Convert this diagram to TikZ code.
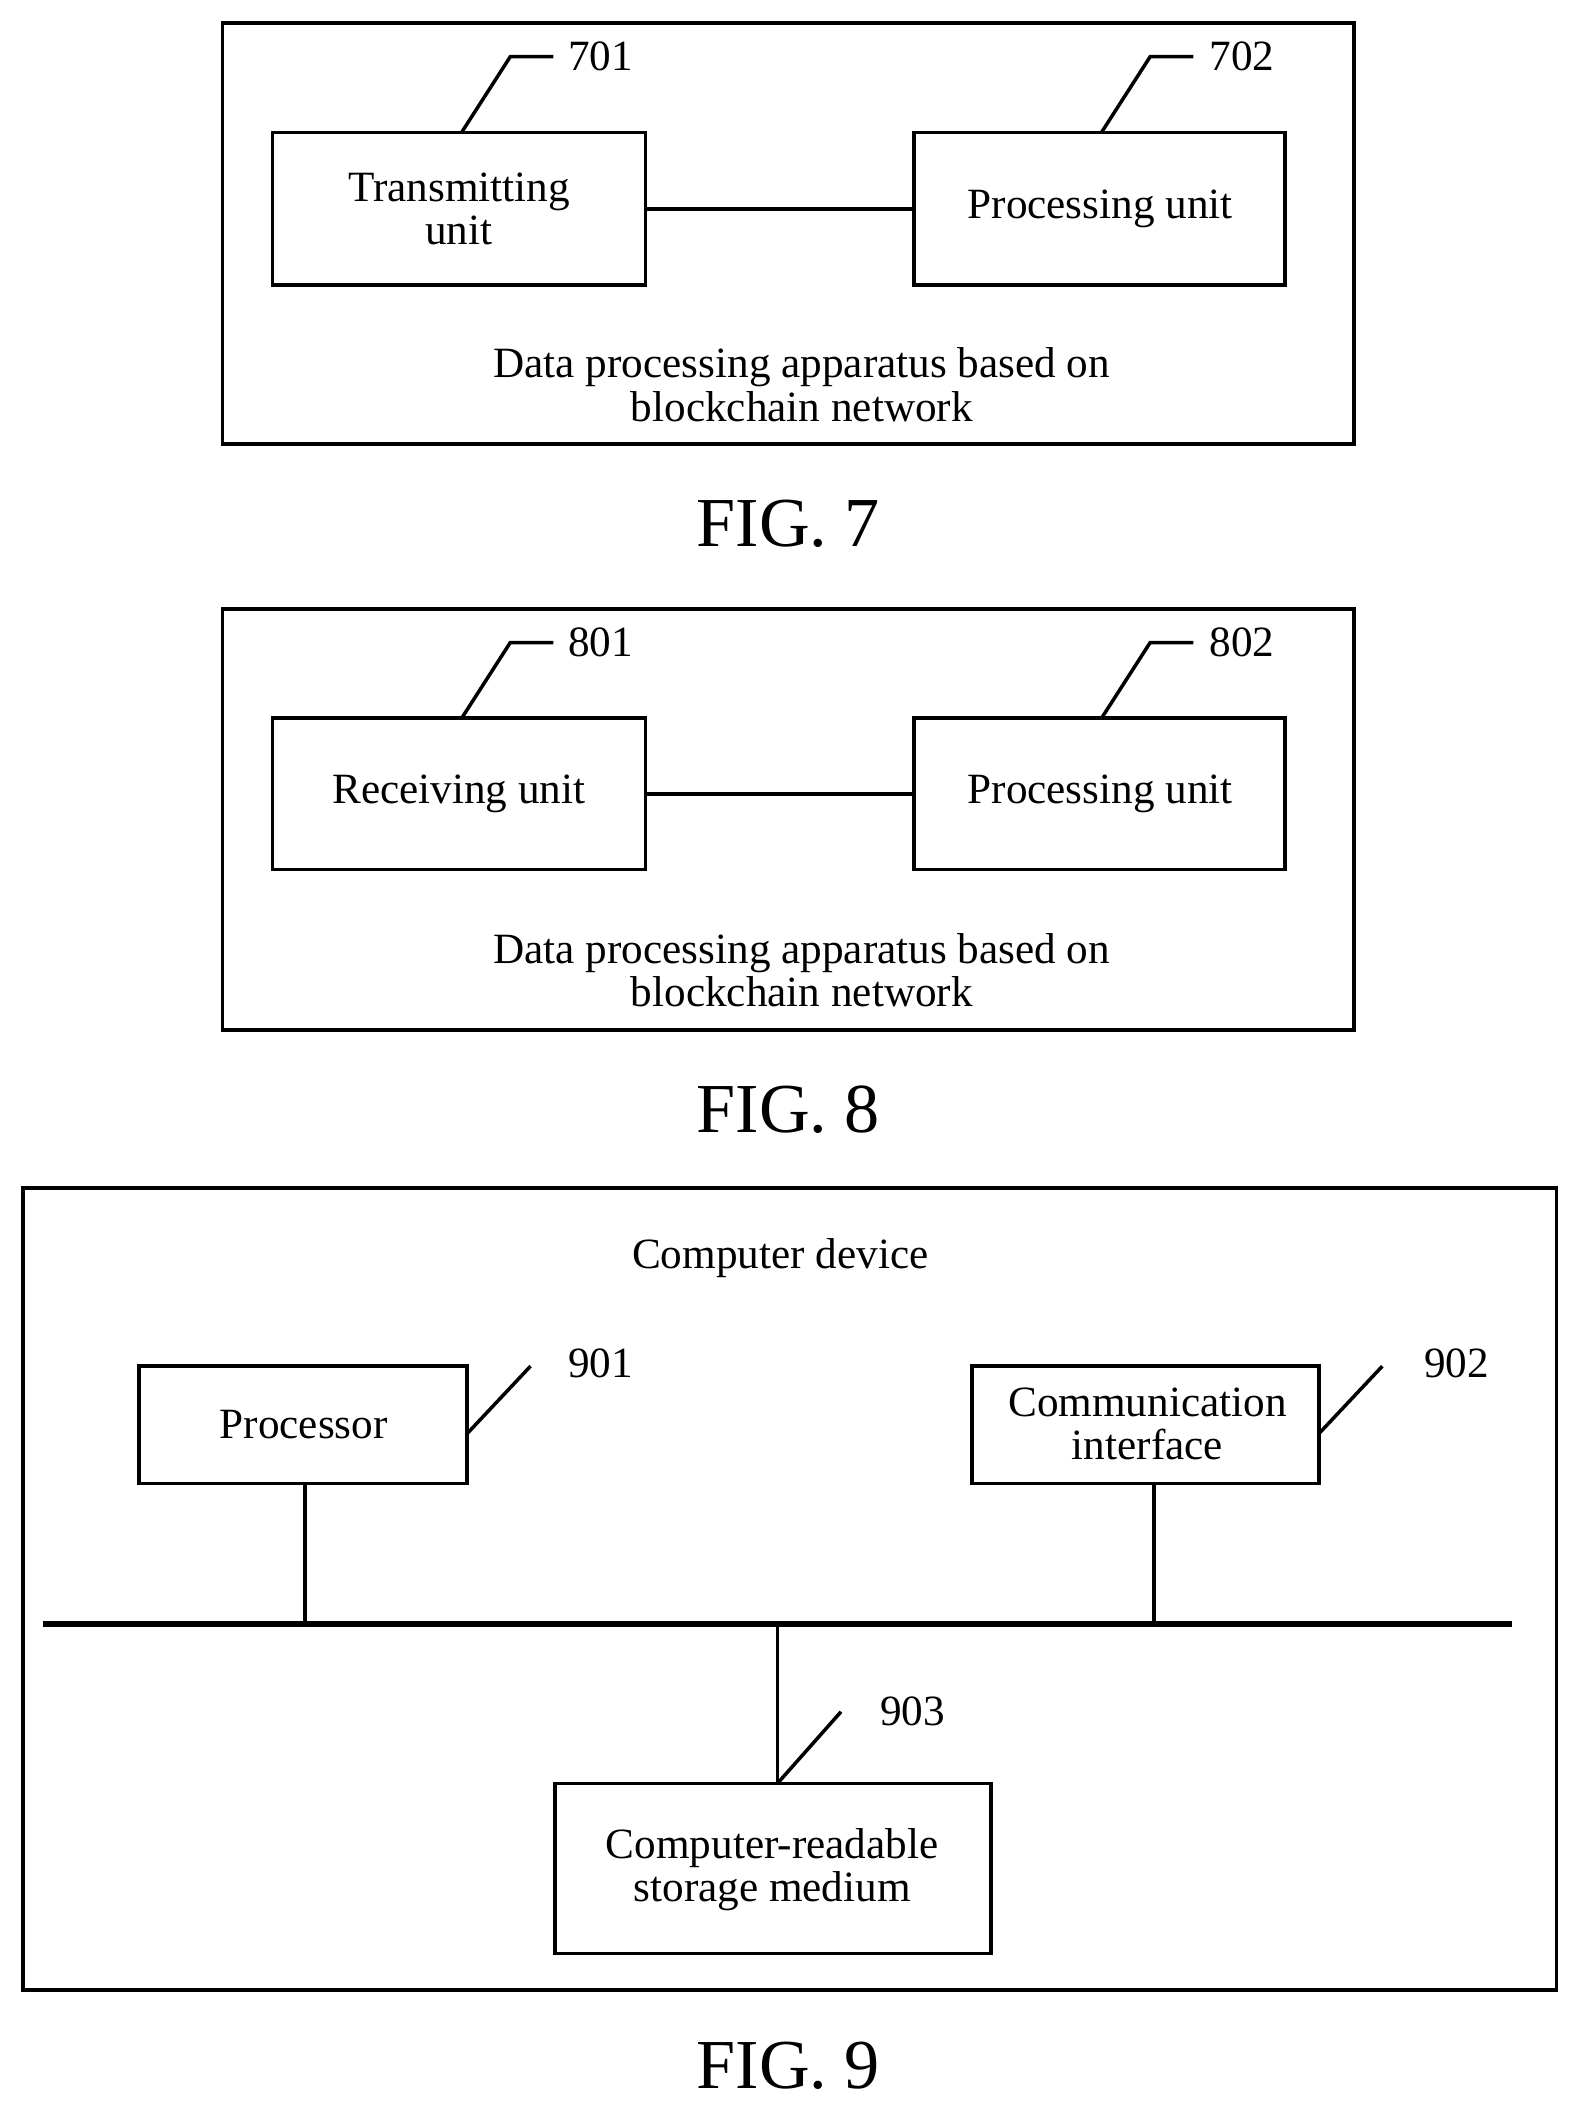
\documentclass[tikz,border=0pt]{standalone}
\usepackage{fontspec}
\setmainfont{Liberation Serif}
\begin{document}
\begin{tikzpicture}[x=1pt,y=-1pt,line width=2.6pt,
 txt/.style={font=\fontsize{32}{36}\selectfont,align=center},
 figcap/.style={font=\fontsize{52}{58}\selectfont},
 lab/.style={font=\fontsize{32}{36}\selectfont}]
\useasboundingbox (0,0) rectangle (1169,1566);
% FIG 7
\draw (165,17) rectangle (1003,329);
\draw (202,98) rectangle (478,211); \node[txt] (a1) at (340,155) {Transmitting\\[-4pt]unit};
\draw (677,98) rectangle (952,211); \node[txt] (a2) at (815,155) {Processing unit};
\draw (478,155) -- (677,155);
\draw (342,98) -- (378,42) -- (410,42); \node[lab] (l701) at (445,42) {701};
\draw (816,98) -- (852,42) -- (884,42); \node[lab] (l702) at (920,42) {702};
\node[txt] (t7) at (594,285) {Data processing apparatus based on\\[-4pt]blockchain network};
\node[figcap] (f7) at (584,388) {FIG. 7};
% FIG 8
\draw (165,451) rectangle (1003,763);
\draw (202,532) rectangle (478,644); \node[txt] (b1) at (340,588) {Receiving unit};
\draw (677,532) rectangle (952,644); \node[txt] (b2) at (815,588) {Processing unit};
\draw (478,588) -- (677,588);
\draw (342,532) -- (378,476) -- (410,476); \node[lab] (l801) at (445,476) {801};
\draw (816,532) -- (852,476) -- (884,476); \node[lab] (l802) at (920,476) {802};
\node[txt] (t8) at (594,719) {Data processing apparatus based on\\[-4pt]blockchain network};
\node[figcap] (f8) at (584,822) {FIG. 8};
% FIG 9
\draw (17,880) rectangle (1153,1474);
\node[txt] (cd) at (578,932) {Computer device};
\draw (103,1012) rectangle (346,1099); \node[txt] (p) at (225,1055) {Processor};
\draw (720,1012) rectangle (977,1099); \node[txt] (c) at (850,1055) {Communication\\[-4pt]interface};
\draw (346,1062) -- (393,1012); \node[lab] (l901) at (445,1010) {901};
\draw (977,1062) -- (1024,1012); \node[lab] (l902) at (1079,1010) {902};
\draw[line width=5pt] (32,1203) -- (1120,1203);
\draw (226,1099) -- (226,1203);
\draw (855,1099) -- (855,1203);
\draw (576,1203) -- (576,1321);
\draw (411,1321) rectangle (734,1447); \node[txt] (s) at (572,1385) {Computer-readable\\[-4pt]storage medium};
\draw (576,1321) -- (623,1268); \node[lab] (l903) at (676,1268) {903};
\node[figcap] (f9) at (584,1530) {FIG. 9};
\end{tikzpicture}
\end{document}
